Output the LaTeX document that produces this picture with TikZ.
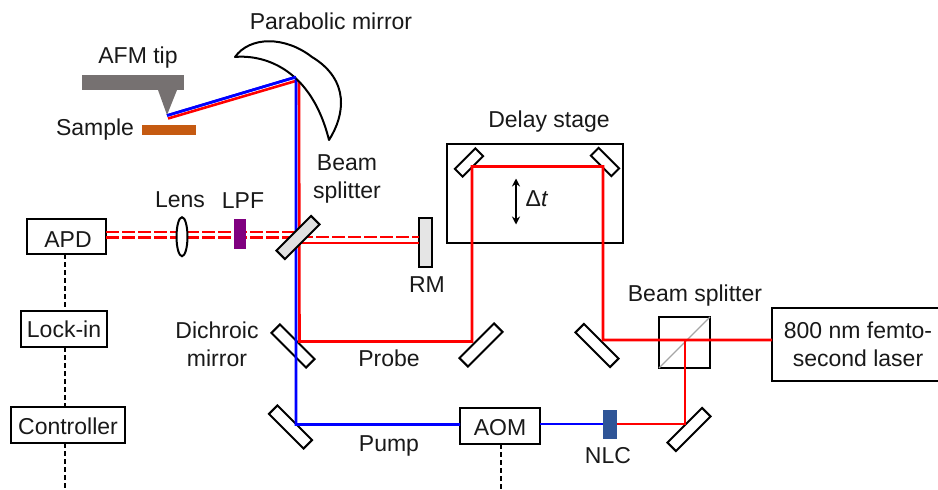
\documentclass[tikz,border=0pt]{standalone}
\usepackage{fontspec}
\setmainfont{Liberation Sans}
\usetikzlibrary{arrows.meta,shapes.geometric}
\definecolor{afmgray}{HTML}{767171}
\definecolor{samplebrown}{HTML}{C55A11}
\definecolor{lpfpurple}{HTML}{800080}
\definecolor{nlcblue}{HTML}{2F5597}
\definecolor{bsgray}{HTML}{E0E0E0}
\tikzset{
  x=1pt,y=-1pt,
  every node/.style={inner sep=0pt,outer sep=0pt,font=\fontsize{23}{28}\selectfont,text=black!90},
  lbl/.style={anchor=base},
  lbltwo/.style={align=center,anchor=center},
  boxed/.style={draw=black,line width=2pt,fill=white,rectangle},
  mirrorbig/.style={draw=black,line width=2pt,fill=white,rectangle,minimum width=49pt,minimum height=12pt},
  mirrorsmall/.style={draw=black,line width=2pt,fill=white,rectangle,minimum width=29pt,minimum height=11pt},
  redbeam/.style={draw=red,line width=2.6pt},
  bluebeam/.style={draw=blue,line width=2.6pt},
  reddash/.style={draw=red,line width=2.4pt,dash pattern=on 13pt off 3pt},
  signal/.style={draw=black,line width=2pt,dash pattern=on 5pt off 3pt},
}
\begin{document}
\begin{tikzpicture}
\clip (0,0) rectangle (938,490);
% mirrors
\node[mirrorbig,rotate=-45] (dichroic) at (293,346) {};
\node[mirrorbig,rotate=-45] (pumpmirror) at (290.5,427) {};
\node[mirrorbig,rotate=45] (probemirror) at (481,345) {};
\node[mirrorbig,rotate=-45] (inmirror) at (597,345.5) {};
\node[mirrorbig,rotate=45] (shgmirror) at (689,429.5) {};
% delay stage
\node[boxed,minimum width=176pt,minimum height=99pt] (stage) at (535,193.5) {};
\node[mirrorsmall,rotate=45] (dl) at (469,162.5) {};
\node[mirrorsmall,rotate=-45] (dr) at (605,162) {};
% boxes
\node[boxed,minimum width=79pt,minimum height=35pt,text height=21pt,text depth=0pt] (apd) at (66.5,236.5) {\hspace*{3pt}APD};
\node[boxed,minimum width=86pt,minimum height=36pt,text height=16pt,text depth=0pt] (lockin) at (64,329) {Lock-in};
\node[boxed,minimum width=114pt,minimum height=36pt,text height=18pt,text depth=0pt] (controller) at (68,425) {Controller};
\node[boxed,minimum width=80pt,minimum height=36pt,text height=18pt,text depth=0pt] (aom) at (500,426) {AOM};
\node[boxed,minimum width=172pt,minimum height=73pt,align=center] (laser) at (858,344.5) {800 nm femto-\\second laser};
\node[draw=black,line width=2pt,fill=white,minimum width=51pt,minimum height=51pt] (cube) at (684.5,342.5) {};
\draw[draw=black!35,line width=1.2pt] (cube.south west) -- (cube.north east);
\node[draw=black,line width=2pt,fill=white!90!black,minimum width=13pt,minimum height=49pt] (rm) at (425,242.5) {};
% beam corner coordinates
\coordinate (tipB) at (167,115.5);
\coordinate (tipR) at (168,118.5);
\coordinate (pmB) at (296,77);
\coordinate (pmR) at (299,80);
\coordinate (dcB) at (296,424.5);
\coordinate (dcR) at (299.5,341.5);
\coordinate (pC) at (472,341.5);
\coordinate (dlC) at (472,166.5);
\coordinate (drC) at (603,166.5);
\coordinate (inC) at (603,340);
\coordinate (cC) at (685,340);
\coordinate (smC) at (685,424);
\coordinate (nlcR) at (616,424);
\coordinate (nlcL) at (604,424);
\coordinate (ba) at (296,231.7);
\coordinate (bb) at (296,237.3);
\coordinate (rmA) at (300,237);
\coordinate (rmB) at (299.5,243);
% beams
\draw[redbeam,line join=miter] (tipR) -- (pmR) -- (dcR) -- (pC) -- (dlC) -- (drC) -- (inC) -- (laser.west |- inC);
\draw[redbeam] (cC) -- (smC) -- (nlcR);
\draw[redbeam] (rmB) -- (rm.west |- rmB);
\draw[reddash] (rmA) -- (rm.west |- rmA);
\draw[reddash] (apd.east |- ba) -- (ba);
\draw[reddash] (apd.east |- bb) -- (bb);
\draw[bluebeam,line join=miter] (tipB) -- (pmB) -- (dcB) -- (aom.west |- dcB);
\draw[bluebeam] (aom.east |- nlcL) -- (nlcL);
% signal lines
\coordinate (ctlEnd) at (65,490);
\coordinate (aomEnd) at (501,490);
\draw[signal] (apd.south -| ctlEnd) -- (lockin.north -| ctlEnd);
\draw[signal] (lockin.south -| ctlEnd) -- (controller.north -| ctlEnd);
\draw[signal] (controller.south -| ctlEnd) -- (ctlEnd);
\draw[signal] (aom.south -| aomEnd) -- (aomEnd);
% optics on top of beams
\node[draw=black,line width=2pt,fill=bsgray,rectangle,rotate=45,minimum width=49pt,minimum height=12pt] (bs) at (298,237.5) {};
\node[draw=black,line width=2pt,fill=white,ellipse,minimum width=11pt,minimum height=39pt] (lens) at (182,236.7) {};
\node[fill=lpfpurple,minimum width=12pt,minimum height=30pt] (lpf) at (240,234) {};
\node[fill=nlcblue,minimum width=14pt,minimum height=29pt] (nlc) at (610,424.5) {};
% AFM
\fill[afmgray] (82,75) rectangle (184,90);
\fill[afmgray] (158,90) -- (177,90) -- (167,115) -- cycle;
\fill[samplebrown] (142,125) rectangle (196,135);
% parabolic mirror
\draw[line width=2pt,fill=white,line join=round] (235,57) .. controls (254,55) and (309,60) .. (329,140) .. controls (345,115) and (350,80) .. (312,57) .. controls (285,36) and (250,36) .. (235,57) -- cycle;
% delta t arrow
\node (dtop) at (516,178) {};
\node (dbot) at (516,225) {};
\draw[line width=1.8pt,{Stealth[length=8pt,width=8pt]}-{Stealth[length=8pt,width=8pt]}] (dtop) -- (dbot);
% beam end on the mirror
\draw[bluebeam] (tipB) -- (pmB);
% labels
\node[lbl] (lpar) at (331,29.5) {Parabolic mirror};
\node[lbl] (lafm) at (138,63) {AFM tip};
\node[lbl] (lsam) at (95,135) {Sample};
\node[lbltwo] (lbs) at (347,179) {Beam\\splitter};
\node[lbl] (llens) at (180,207) {Lens};
\node[lbl] (llpf) at (243,208) {LPF};
\node[lbl] (lrm) at (427,292) {RM};
\node[lbltwo] (ldm) at (217,344.5) {Dichroic\\mirror};
\node[lbl] (ldel) at (549,127) {Delay stage};
\node[lbl] (lprobe) at (389,366) {Probe};
\node[lbl] (lpump) at (389,451) {Pump};
\node[lbl] (lnlc) at (608,463) {NLC};
\node[lbl] (lbs2) at (695,301) {Beam splitter};
\node[lbl] (ldt) at (537,206) {Δ\textit{t}};
\end{tikzpicture}
\end{document}
